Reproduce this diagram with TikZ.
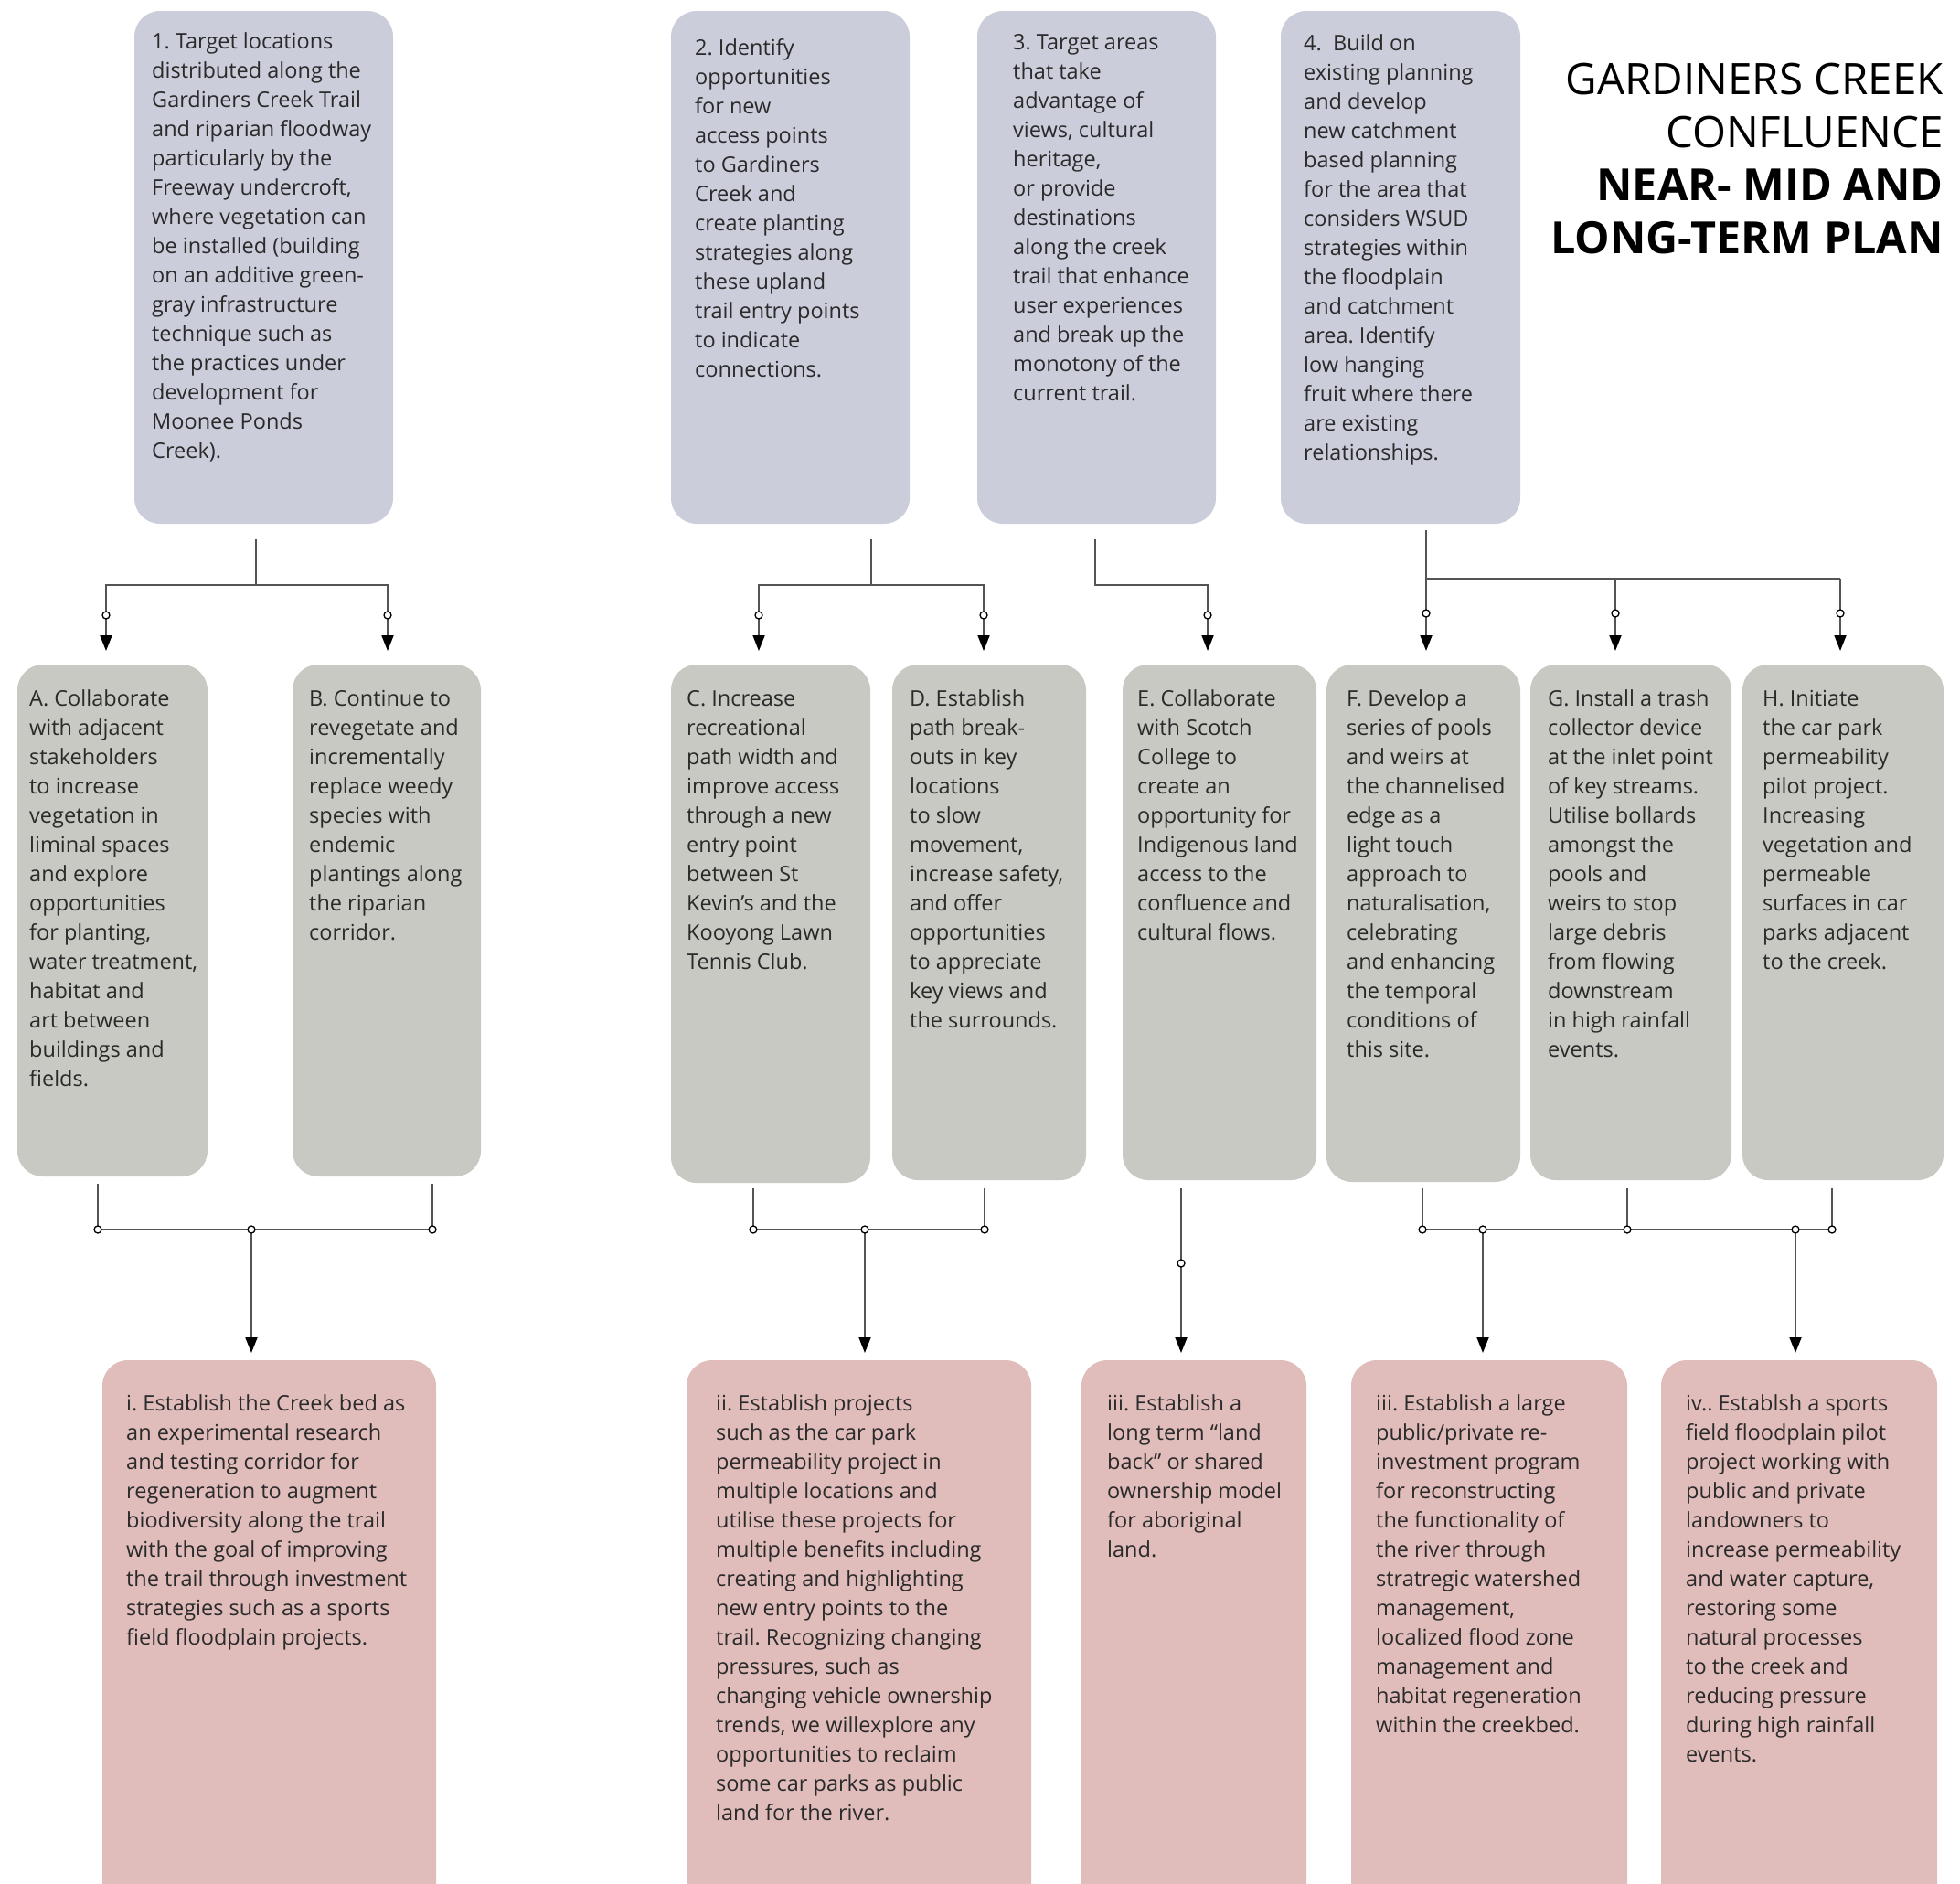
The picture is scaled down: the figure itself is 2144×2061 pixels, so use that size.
\documentclass[tikz,border=0pt]{standalone}
\usepackage{fontspec}
\setmainfont{Open Sans}
\usetikzlibrary{arrows.meta}
\definecolor{topc}{HTML}{CBCDDB}
\definecolor{midc}{HTML}{C9C9C3}
\definecolor{botc}{HTML}{E0BCBB}
\definecolor{linec}{HTML}{545454}
\definecolor{txtc}{HTML}{2A2A2A}
\frenchspacing
\newcommand\bodyfont{\fontsize{23.5}{32}\selectfont}
\newcommand\ttlfont{\fontsize{47.5}{58}\selectfont}
\newcommand\ttlbfont{\fontsize{48.5}{58}\selectfont\bfseries}
\newcommand\card[6]{\node[#2, minimum width={(#5-#3)*1pt}, minimum height={(#6-#4)*1pt}] (#1) at ({(#3+#5)/2},{(#4+#6)/2}) {};}
\newcommand\cardtext[4]{\node[boxtext] (#1) at (#2,{#3-22.4}) {\strut #4};}
\begin{document}
\begin{tikzpicture}[x=1pt,y=-1pt,
  card/.style={rounded corners=28pt, inner sep=0pt, outer sep=0pt, draw=none},
  topcard/.style={card, fill=topc},
  midcard/.style={card, fill=midc},
  botcard/.style={card, fill=botc},
  boxtext/.style={anchor=north west, inner sep=0pt, align=left, font=\bodyfont, text=txtc},
  wire/.style={draw=linec, line width=1.8pt},
  arr/.style={wire, -{Triangle[length=17pt,width=13pt,color=black]}},
  hub/.style={circle, draw=black, fill=white, line width=1.3pt, minimum size=8pt, inner sep=0pt},
  ttl/.style={anchor=base east, inner sep=0pt, font=\ttlfont, text=black}
]
\path[use as bounding box] (0,0) rectangle (2144,2061);
\clip (0,0) rectangle (2144,2061);

% ---------- top cards ----------
\card{b1}{topcard}{147}{12}{430}{573}
\card{b2}{topcard}{734}{12}{995}{573}
\card{b3}{topcard}{1069}{12}{1330}{573}
\card{b4}{topcard}{1401}{12}{1663}{573}

\cardtext{b1t}{166}{53}{1. Target locations\\distributed along the\\Gardiners Creek Trail\\and riparian floodway\\particularly by the\\Freeway undercroft,\\where vegetation can\\be installed (building\\on an additive green-\\gray infrastructure\\technique such as\\the practices under\\development for\\Moonee Ponds\\Creek).}
\cardtext{b2t}{760}{60}{2. Identify\\opportunities\\for new\\access points\\to Gardiners\\Creek and\\create planting\\strategies along\\these upland\\trail entry points\\to indicate\\connections.}
\cardtext{b3t}{1108}{54}{3. Target areas\\that take\\advantage of\\views, cultural\\heritage,\\or provide\\destinations\\along the creek\\trail that enhance\\user experiences\\and break up the\\monotony of the\\current trail.}
\cardtext{b4t}{1426}{55}{4.\ \ Build on\\existing planning\\and develop\\new catchment\\based planning\\for the area that\\considers WSUD\\strategies within\\the floodplain\\and catchment\\area. Identify\\low hanging\\fruit where there\\are existing\\relationships.}

% ---------- title ----------
\node[ttl] (t1) at (2126,103) {GARDINERS CREEK};
\node[ttl] (t2) at (2126,161) {CONFLUENCE};
\node[ttl, font=\ttlbfont] (t3) at (2126,219) {NEAR- MID AND};
\node[ttl, font=\ttlbfont] (t4) at (2126,277) {LONG-TERM PLAN};

% ---------- middle cards ----------
\card{A}{midcard}{19}{727}{227}{1287}
\card{B}{midcard}{320}{727}{526}{1287}
\card{C}{midcard}{734}{727}{952}{1294}
\card{D}{midcard}{976}{727}{1188}{1291}
\card{E}{midcard}{1228}{727}{1440}{1291}
\card{F}{midcard}{1451}{727}{1663}{1293}
\card{G}{midcard}{1674}{727}{1894}{1291}
\card{H}{midcard}{1906}{727}{2126}{1291}

\cardtext{At}{32}{772}{A. Collaborate\\with adjacent\\stakeholders\\to increase\\vegetation in\\liminal spaces\\and explore\\opportunities\\for planting,\\water treatment,\\habitat and\\art between\\buildings and\\fields.}
\cardtext{Bt}{338}{772}{B. Continue to\\revegetate and\\incrementally\\replace weedy\\species with\\endemic\\plantings along\\the riparian\\corridor.}
\cardtext{Ct}{751}{772}{C. Increase\\recreational\\path width and\\improve access\\through a new\\entry point\\between St\\Kevin’s and the\\Kooyong Lawn\\Tennis Club.}
\cardtext{Dt}{995}{772}{D. Establish\\path break-\\outs in key\\locations\\to slow\\movement,\\increase safety,\\and offer\\opportunities\\to appreciate\\key views and\\the surrounds.}
\cardtext{Et}{1244}{772}{E. Collaborate\\with Scotch\\College to\\create an\\opportunity for\\Indigenous land\\access to the\\confluence and\\cultural flows.}
\cardtext{Ft}{1473}{772}{F. Develop a\\series of pools\\and weirs at\\the channelised\\edge as a\\light touch\\approach to\\naturalisation,\\celebrating\\and enhancing\\the temporal\\conditions of\\this site.}
\cardtext{Gt}{1693}{772}{G. Install a trash\\collector device\\at the inlet point\\of key streams.\\Utilise bollards\\amongst the\\pools and\\weirs to stop\\large debris\\from flowing\\downstream\\in high rainfall\\events.}
\cardtext{Ht}{1928}{772}{H. Initiate\\the car park\\permeability\\pilot project.\\Increasing\\vegetation and\\permeable\\surfaces in car\\parks adjacent\\to the creek.}

% ---------- bottom cards ----------
\card{r1}{botcard}{112}{1488}{477}{2110}
\card{r2}{botcard}{751}{1488}{1128}{2110}
\card{r3}{botcard}{1183}{1488}{1429}{2110}
\card{r4}{botcard}{1478}{1488}{1780}{2110}
\card{r5}{botcard}{1817}{1488}{2119}{2110}

\cardtext{r1t}{138}{1543}{i. Establish the Creek bed as\\an experimental research\\and testing corridor for\\regeneration to augment\\biodiversity along the trail\\with the goal of improving\\the trail through investment\\strategies such as a sports\\field floodplain projects.}
\cardtext{r2t}{783}{1543}{ii. Establish projects\\such as the car park\\permeability project in\\multiple locations and\\utilise these projects for\\multiple benefits including\\creating and highlighting\\new entry points to the\\trail. Recognizing changing\\pressures, such as\\changing vehicle ownership\\trends, we willexplore any\\opportunities to reclaim\\some car parks as public\\land for the river.}
\cardtext{r3t}{1211}{1543}{iii. Establish a\\long term “land\\back” or shared\\ownership model\\for aboriginal\\land.}
\cardtext{r4t}{1505}{1543}{iii. Establish a large\\public/private re-\\investment program\\for reconstructing\\the functionality of\\the river through\\stratregic watershed\\management,\\localized flood zone\\management and\\habitat regeneration\\within the creekbed.}
\cardtext{r5t}{1844}{1543}{iv.. Establsh a sports\\field floodplain pilot\\project working with\\public and private\\landowners to\\increase permeability\\and water capture,\\restoring some\\natural processes\\to the creek and\\reducing pressure\\during high rainfall\\events.}

% ---------- top connectors ----------
\coordinate (g1s) at (280,590);
\coordinate (g1j) at (280,640);
\coordinate (g1l) at (116,640);
\coordinate (g1r) at (424,640);
\draw[wire] (g1s) -- (g1j);
\draw[arr, shorten >=15pt] (g1j) -- (g1l) -- (A.north -| g1l);
\draw[arr, shorten >=15pt] (g1j) -- (g1r) -- (B.north -| g1r);
\node[hub] (h1a) at (116,673) {};
\node[hub] (h1b) at (424,673) {};

\coordinate (g2s) at (953,590);
\coordinate (g2j) at (953,640);
\coordinate (g2l) at (830,640);
\coordinate (g2r) at (1076,640);
\draw[wire] (g2s) -- (g2j);
\draw[arr, shorten >=15pt] (g2j) -- (g2l) -- (C.north -| g2l);
\draw[arr, shorten >=15pt] (g2j) -- (g2r) -- (D.north -| g2r);
\node[hub] (h2a) at (830,673) {};
\node[hub] (h2b) at (1076,673) {};

\coordinate (g3s) at (1198,590);
\coordinate (g3j) at (1198,640);
\coordinate (g3r) at (1321,640);
\draw[arr, shorten >=15pt] (g3s) -- (g3j) -- (g3r) -- (E.north -| g3r);
\node[hub] (h3a) at (1321,673) {};

\coordinate (g4s) at (1560,580);
\coordinate (g4j) at (1560,633);
\coordinate (g4m) at (1767,633);
\coordinate (g4r) at (2013,633);
\draw[arr, shorten >=15pt] (g4s) -- (F.north -| g4s);
\draw[wire] (g4j) -- (g4r);
\draw[arr, shorten >=15pt] (g4m) -- (G.north -| g4m);
\draw[arr, shorten >=15pt] (g4r) -- (H.north -| g4r);
\node[hub] (h4a) at (1560,671) {};
\node[hub] (h4b) at (1767,671) {};
\node[hub] (h4c) at (2013,671) {};

% ---------- bottom connectors ----------
\coordinate (k1a) at (107,1295);
\coordinate (k1al) at (107,1345);
\coordinate (k1b) at (473,1295);
\coordinate (k1bl) at (473,1345);
\coordinate (k1m) at (275,1345);
\draw[wire] (k1a) -- (k1al) -- (k1bl) -- (k1b);
\draw[arr, shorten >=8pt] (k1m) -- (r1.north -| k1m);
\node[hub] (q1a) at (k1al) {};
\node[hub] (q1b) at (k1m) {};
\node[hub] (q1c) at (k1bl) {};

\coordinate (k2a) at (824,1300);
\coordinate (k2al) at (824,1345);
\coordinate (k2b) at (1077,1300);
\coordinate (k2bl) at (1077,1345);
\coordinate (k2m) at (946,1345);
\draw[wire] (k2a) -- (k2al) -- (k2bl) -- (k2b);
\draw[arr, shorten >=8pt] (k2m) -- (r2.north -| k2m);
\node[hub] (q2a) at (k2al) {};
\node[hub] (q2b) at (k2m) {};
\node[hub] (q2c) at (k2bl) {};

\coordinate (k3a) at (1292,1300);
\draw[arr, shorten >=8pt] (k3a) -- (r3.north -| k3a);
\node[hub] (q3a) at (1292,1382) {};

\coordinate (k4a) at (1556,1300);
\coordinate (k4al) at (1556,1345);
\coordinate (k4b) at (1780,1300);
\coordinate (k4bl) at (1780,1345);
\coordinate (k4c) at (2004,1300);
\coordinate (k4cl) at (2004,1345);
\coordinate (k4m) at (1622,1345);
\coordinate (k4n) at (1964,1345);
\draw[wire] (k4a) -- (k4al) -- (k4cl) -- (k4c);
\draw[wire] (k4b) -- (k4bl);
\draw[arr, shorten >=8pt] (k4m) -- (r4.north -| k4m);
\draw[arr, shorten >=8pt] (k4n) -- (r5.north -| k4n);
\node[hub] (q4a) at (k4al) {};
\node[hub] (q4b) at (k4m) {};
\node[hub] (q4c) at (k4bl) {};
\node[hub] (q4d) at (k4n) {};
\node[hub] (q4e) at (k4cl) {};
\end{tikzpicture}
\end{document}
